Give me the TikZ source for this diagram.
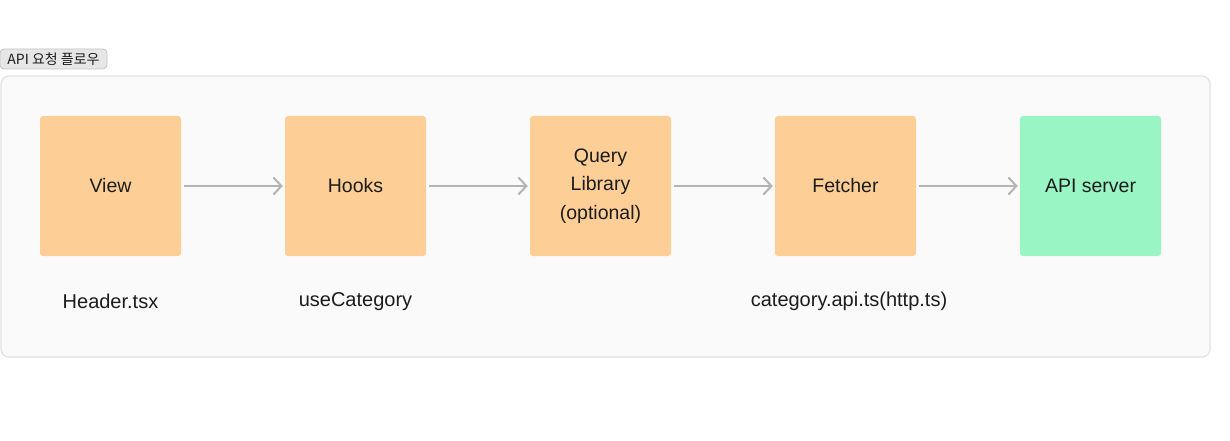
\documentclass[tikz,border=0pt]{standalone}
\usepackage{fontspec}
\setmainfont{Liberation Sans}
\newfontfamily\krfont{Noto Sans CJK KR}
\usetikzlibrary{arrows.meta}
\definecolor{stepfill}{HTML}{FDCF96}
\definecolor{serverfill}{HTML}{99F6C4}
\definecolor{panelfill}{HTML}{FAFAFB}
\definecolor{panelline}{HTML}{E2E2E4}
\definecolor{arrowgray}{HTML}{B4B4B4}
\definecolor{tagfill}{HTML}{E6E6E6}
\definecolor{tagline}{HTML}{C4C4C4}
\definecolor{ink}{HTML}{1C1C1C}
\tikzset{
  x=1pt, y=-1pt,
  stepbox/.style={fill=stepfill, rounded corners=3pt, minimum width=141pt, minimum height=140pt,
    inner sep=0pt, align=center, font=\fontsize{19.5}{28.5}\selectfont, text=ink},
  serverbox/.style={stepbox, fill=serverfill},
  flow/.style={draw=arrowgray, line width=2pt, -{Straight Barb[length=8pt,width=17pt,line width=2pt]}},
  caption/.style={font=\fontsize{20}{24}\selectfont, text=ink, inner sep=0pt}
}
\begin{document}
\begin{tikzpicture}
\useasboundingbox (0,0) rectangle (1230,441);
\fill[white] (0,0) rectangle (1230,441);
% panel
\draw[fill=panelfill, draw=panelline, line width=1.2pt, rounded corners=8pt] (1,76) rectangle (1210,357);
% tag
\node[draw=tagline, fill=tagfill, rounded corners=4pt, line width=0.8pt, inner sep=0pt,
  minimum width=107pt, minimum height=20pt, font=\krfont\fontsize{14}{16}\selectfont, text=ink]
  (tag) at (53.5,59) {API 요청 플로우};
% steps
\node[stepbox] (view) at (110.5,186) {View};
\node[stepbox] (hooks) at (355.5,186) {Hooks};
\node[stepbox, text depth=4pt] (query) at (600.5,186) {Query\\Library\\(optional)};
\node[stepbox] (fetch) at (845.5,186) {Fetcher};
\node[serverbox] (server) at (1090.5,186) {API server};
% connectors
\draw[flow] ([xshift=3pt]view.east) -- ([xshift=-2pt]hooks.west);
\draw[flow] ([xshift=3pt]hooks.east) -- ([xshift=-2pt]query.west);
\draw[flow] ([xshift=3pt]query.east) -- ([xshift=-2pt]fetch.west);
\draw[flow] ([xshift=3pt]fetch.east) -- ([xshift=-2pt]server.west);
% captions
\node[caption] (c1) at (110.5,301.5) {Header.tsx};
\node[caption] (c2) at (355.5,301.5) {useCategory};
\node[caption] (c3) at (849,301.5) {category.api.ts(http.ts)};
\end{tikzpicture}
\end{document}
